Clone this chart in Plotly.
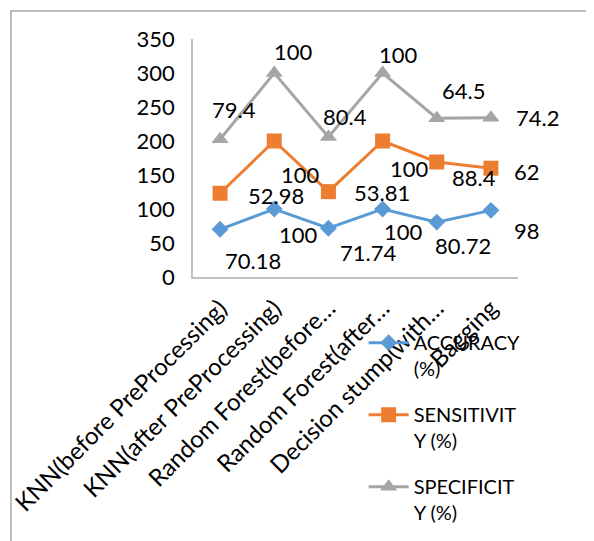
import numpy as np
import plotly.graph_objects as go

categories = ["KNN(before PreProcessing)", "KNN(after PreProcessing)", "Random Forest(before…",
              "Random Forest(after…", "Decision stump(with…", "Bagging"]
accuracy = [70.18, 100, 71.74, 100, 80.72, 98]
sensitivity = [52.98, 100, 53.81, 100, 88.4, 62]
specificity = [79.4, 100, 80.4, 100, 64.5, 74.2]
series_names = ["ACCURACY<br>(%)", "SENSITIVIT<br>Y (%)", "SPECIFICIT<br>Y (%)"]
y_ticks = [0, 50, 100, 150, 200, 250, 300, 350]

# styles
colors = ["#5B9BD5", "#ED7D31", "#A5A5A5"]
symbols = ["diamond", "square", "triangle-up"]
msizes = [13, 15, 15]
label_offsets = [
    [(33, -31), (24, -25), (40, -24), (21, -22), (26, -23), (36, -20)],
    [(56, -2), (26, -33), (54, -1), (27, -27), (37, -15), (36, -3)],
    [(14, 30), (19, 22), (17, 20), (16, 19), (27, 28), (47, 0)],
]

FONT = "Lato, Calibri, Carlito, sans-serif"
series = [accuracy, sensitivity, specificity]
stacked = np.cumsum(np.array(series), axis=0)
xidx = list(range(len(categories)))

fig = go.Figure()
annotations = []
for i, (vals, name) in enumerate(zip(series, series_names)):
    fig.add_trace(go.Scatter(
        x=xidx, y=stacked[i], mode="lines+markers", name=name,
        legendgroup=f"g{i}",
        line=dict(color=colors[i], width=3),
        marker=dict(symbol=symbols[i], size=msizes[i], color=colors[i]),
    ))
    for j, v in enumerate(vals):
        dx, dy = label_offsets[i][j]
        annotations.append(dict(
            x=xidx[j], y=stacked[i][j], xref="x", yref="y",
            text=f"{v:g}", showarrow=False, xshift=dx, yshift=dy,
            font=dict(family=FONT, size=22, color="#000000"),
        ))

fig.update_layout(
    width=594, height=541,
    margin=dict(l=185, r=84, t=31, b=272, autoexpand=False),
    paper_bgcolor="white", plot_bgcolor="white",
    font=dict(family=FONT, size=20, color="#000000"),
    showlegend=True,
    legend=dict(
        x=0.525, y=-0.194, xanchor="left", yanchor="top",
        valign="top", tracegroupgap=17,
        font=dict(family=FONT, size=20, color="#000000"),
        bgcolor="rgba(0,0,0,0)", itemwidth=40,
    ),
    annotations=annotations,
    shapes=[dict(type="rect", xref="paper", yref="paper",
                 x0=-0.56, x1=1.5, y0=-2, y1=1.1176,
                 line=dict(color="#A6A6A6", width=1.5), fillcolor="rgba(0,0,0,0)",
                 layer="below")],
)
fig.update_xaxes(
    tickmode="array", tickvals=xidx, ticktext=categories, tickangle=-45,
    range=[-0.5, len(categories) - 0.5], showgrid=False, zeroline=False,
    showline=True, linecolor="#BFBFBF", linewidth=1.5, ticks="",
    ticklabelstandoff=6,
    tickfont=dict(family=FONT, size=24), automargin=False,
)
fig.update_yaxes(
    range=[0, 350], tickvals=y_ticks, showgrid=False, zeroline=False,
    showline=True, linecolor="#BFBFBF", linewidth=1.5, ticks="",
    ticklabelstandoff=12, tickfont=dict(family=FONT, size=22), automargin=False,
)

fig.write_html("out.html")
